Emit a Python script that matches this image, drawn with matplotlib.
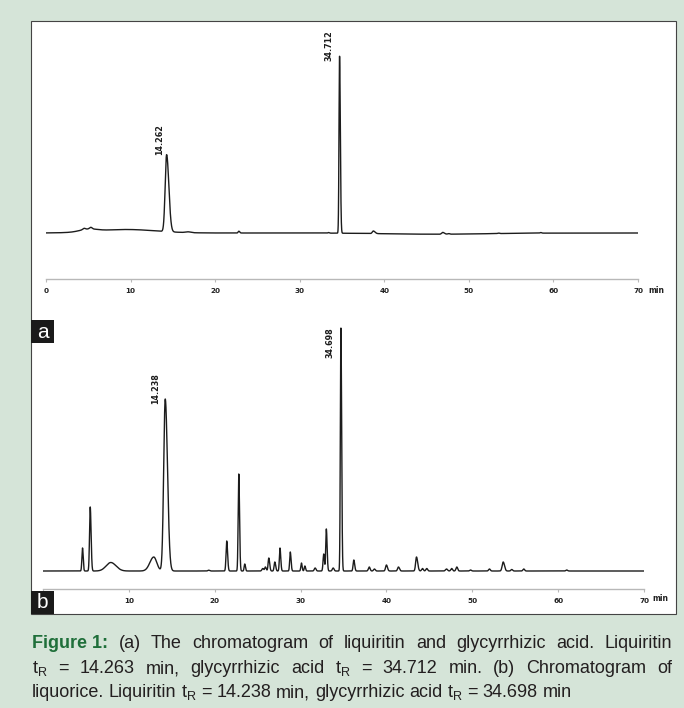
import numpy as np
import matplotlib
matplotlib.use('Agg')
import matplotlib.pyplot as plt
from matplotlib.patches import Rectangle

W, H = 684, 708

# ---- (a) standards: liquiritin + glycyrrhizic acid ----
# retention time (min), height (rel.), left / right half-width (min)
a_times = [4.5, 5.0, 5.3, 9.5, 14.262, 16.8, 22.8, 33.4, 34.712, 38.7, 46.0, 46.9, 47.6, 53.5, 58.5]
a_heights = [1.2, 2.5, 1.6, 3.5, 77, 0.8, 1.8, 0.6, 177, 2.6, -1.2, 1.8, 0.6, 0.5, 0.6]
a_left = [0.15, 1.0, 0.15, 3.5, 0.17, 0.3, 0.08, 0.08, 0.065, 0.12, 6.0, 0.12, 0.1, 0.1, 0.1]
a_right = [0.15, 1.0, 0.15, 3.5, 0.26, 0.3, 0.1, 0.1, 0.09, 0.2, 6.0, 0.2, 0.1, 0.1, 0.1]
a_labels = ['14.262', '34.712']

# ---- (b) liquorice extract ----
b_times = [4.6, 5.5, 7.9, 12.9, 14.238, 19.3, 21.4, 22.8, 23.5, 25.6, 25.9, 26.3, 27.0,
           27.6, 28.8, 30.1, 30.5, 31.7, 32.7, 33.0, 33.8, 34.698, 36.2, 38.0, 38.6,
           40.0, 41.4, 43.5, 44.2, 44.7, 47.0, 47.6, 48.2, 49.8, 52.0, 53.6, 54.6, 56.0, 61.0]
b_heights = [23, 64, 8.5, 14, 172, 0.8, 30, 97, 7, 2.5, 4, 13, 9,
             23, 19, 8, 5, 3, 17, 42, 3, 243, 11, 4, 2,
             6, 4, 14, 2.5, 2.5, 2, 2.5, 4, 1, 2, 9, 1.5, 2, 1]
b_left = [0.07, 0.08, 0.55, 0.45, 0.18, 0.1, 0.08, 0.07, 0.07, 0.1, 0.08, 0.08, 0.08,
          0.07, 0.07, 0.07, 0.07, 0.1, 0.08, 0.07, 0.1, 0.065, 0.08, 0.1, 0.1,
          0.1, 0.1, 0.1, 0.1, 0.1, 0.12, 0.1, 0.1, 0.1, 0.1, 0.12, 0.1, 0.1, 0.1]
b_right = [0.08, 0.1, 0.6, 0.35, 0.26, 0.1, 0.1, 0.09, 0.08, 0.1, 0.1, 0.1, 0.1,
           0.09, 0.09, 0.08, 0.08, 0.1, 0.08, 0.09, 0.1, 0.085, 0.1, 0.1, 0.1,
           0.12, 0.12, 0.14, 0.1, 0.1, 0.12, 0.1, 0.1, 0.1, 0.1, 0.15, 0.1, 0.1, 0.1]
b_labels = ['14.238', '34.698']

ticks = [0, 10, 20, 30, 40, 50, 60, 70]
a_ticklabels = ['0', '10', '20', '30', '40', '50', '60', '70']
b_ticklabels = ['', '10', '20', '30', '40', '50', '60', '70']  # 0 sits under the "b" tag


def trace(t, times, heights, left, right):
    y = np.zeros_like(t)
    for t0, h, sl, sr in zip(times, heights, left, right):
        s = np.where(t < t0, sl, sr)
        y += h * np.exp(-0.5 * ((t - t0) / s) ** 2)
    return y


def fig_box(x0, y0, x1, y1):
    # pixel box (top-left origin) -> figure fraction rect
    return [x0 / W, 1 - y1 / H, (x1 - x0) / W, (y1 - y0) / H]


fig = plt.figure(figsize=(W / 100, H / 100), dpi=100, facecolor='#d5e4d8')

# white panel behind both chromatograms
panel = Rectangle((31 / W, 1 - 614 / H), 645 / W, 593 / H, transform=fig.transFigure,
                  facecolor='white', edgecolor='#444444', lw=0.8, zorder=-1)
fig.patches.append(panel)

t = np.linspace(0, 70, 14001)


def chromatogram(rect, ylim, y, ticklabels, labels, label_offsets, min_offset):
    ax = fig.add_axes(rect)
    ax.set_facecolor('none')
    ax.plot(t, y, color='#1c1c1c', lw=1.0, solid_joinstyle='round')
    ax.set_xlim(0, 70)
    ax.set_ylim(*ylim)
    for s in ['top', 'left', 'right']:
        ax.spines[s].set_visible(False)
    ax.spines['bottom'].set_color('#b8b8b8')
    ax.spines['bottom'].set_linewidth(1.0)
    ax.set_yticks([])
    ax.set_xticks(ticks)
    ax.set_xticklabels(ticklabels, fontsize=5.2, fontweight='bold', color='#222222')
    ax.tick_params(axis='x', length=2.5, width=0.8, color='#b8b8b8', pad=4)
    ax.annotate('min', xy=(1, 0), xycoords='axes fraction', xytext=min_offset,
                textcoords='offset points', fontsize=5.5, fontweight='bold',
                color='#222222', ha='center', va='center')
    for lab, (dx, dy, va) in zip(labels, label_offsets):
        t0 = float(lab)
        i = np.argmin(np.abs(t - t0))
        ax.annotate(lab, xy=(t0, y[i]), xytext=(dx, dy), textcoords='offset points',
                    rotation=90, fontsize=5.8, fontweight='bold', color='#1c1c1c',
                    ha='right', va=va)
    return ax


ya = trace(t, a_times, a_heights, a_left, a_right)
yb = trace(t, b_times, b_heights, b_left, b_right)

# (a): axis line at y=279 px, baseline at 233 px (1 unit = 1 px)
chromatogram(fig_box(46, 25, 638, 279), (-46, 208), ya, a_ticklabels, a_labels,
             [(-2, 0, 'bottom'), (-4.3, -3.6, 'bottom')], (13, -8))
# (b): axis line at y=589 px, baseline at 571 px
chromatogram(fig_box(43, 300, 644, 589), (-18, 271), yb, b_ticklabels, b_labels,
             [(-3.6, -3.6, 'bottom'), (-4.3, 0.7, 'top')], (12, -6.5))

# panel tags
for tag, (x0, y0) in zip(['a', 'b'], [(31, 320), (31, 591)]):
    box = Rectangle((x0 / W, 1 - (y0 + 23) / H), 23 / W, 23 / H, transform=fig.transFigure,
                    facecolor='#1a1a1a', edgecolor='none', zorder=5)
    fig.patches.append(box)
    fig.text((x0 + 11.5) / W, 1 - (y0 + 12) / H, tag, color='white', fontsize=15,
             family='Liberation Sans', ha='center', va='center', zorder=6)

# caption, justified like the journal layout
green = '#1f6f3a'
ink = '#231f20'
tR = 't$_{\\mathregular{R}}$'
cap_lines = [
    [('Figure 1:', True), ('(a)', False), ('The', False), ('chromatogram', False), ('of', False),
     ('liquiritin', False), ('and', False), ('glycyrrhizic', False), ('acid.', False),
     ('Liquiritin', False)],
    [(tR, False), ('=', False), ('14.263', False), ('min,', False), ('glycyrrhizic', False),
     ('acid', False), (tR, False), ('=', False), ('34.712', False), ('min.', False),
     ('(b)', False), ('Chromatogram', False), ('of', False)],
    [('liquorice.', False), ('Liquiritin', False), (tR, False), ('=', False), ('14.238', False),
     ('min,', False), ('glycyrrhizic', False), ('acid', False), (tR, False), ('=', False),
     ('34.698', False), ('min', False)],
]
cap_y = [648, 673, 697]
cap_just = [True, True, False]
cap_size = 13
cap_family = 'Liberation Sans'

renderer = fig.canvas.get_renderer()
for words, yb_px, just in zip(cap_lines, cap_y, cap_just):
    objs = []
    for w, bold in words:
        objs.append(fig.text(0, 1 - yb_px / H, w, fontsize=cap_size, family=cap_family,
                             fontweight='bold' if bold else 'normal',
                             color=green if bold else ink, va='baseline', ha='left'))
    widths = [o.get_window_extent(renderer).width for o in objs]
    if just:
        gap = (672 - 32 - sum(widths)) / (len(objs) - 1)
    else:
        gap = cap_size * 100 / 72 * 0.26
    x = 32
    for o, wd in zip(objs, widths):
        o.set_x(x / W)
        x += wd + gap

fig.savefig('out.png', dpi=100, facecolor=fig.get_facecolor())
